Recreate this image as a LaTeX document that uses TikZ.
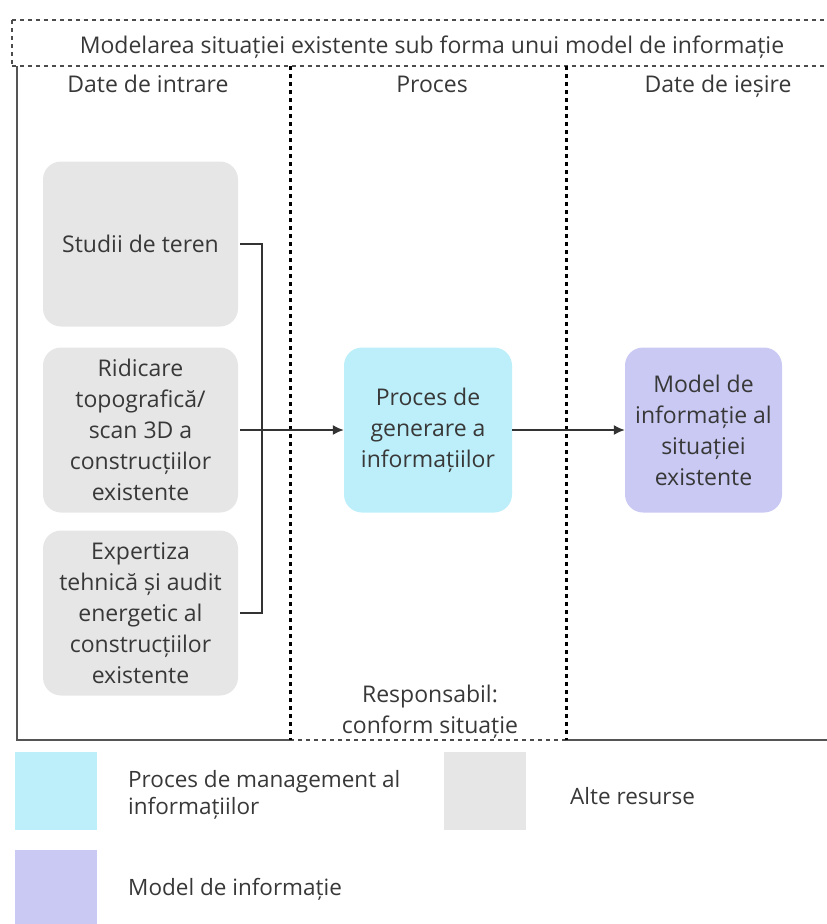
\documentclass[tikz,border=0pt]{standalone}
\usepackage{fontspec}
\setmainfont{Open Sans}
\usetikzlibrary{arrows.meta}
\definecolor{txt}{HTML}{383838}
\definecolor{frame}{HTML}{555555}
\definecolor{resfill}{HTML}{E6E6E6}
\definecolor{procfill}{HTML}{BDEFFA}
\definecolor{modelfill}{HTML}{C9C9F4}
\tikzset{
  lbl/.style={text=txt, font=\fontsize{23}{31}\selectfont, align=center, inner sep=0pt},
  headtext/.style={lbl, anchor=base},
  legtext/.style={lbl, anchor=west, align=left, font=\fontsize{22.5}{27}\selectfont},
  databox/.style={lbl, rounded corners=18pt, minimum width=195pt, minimum height=165pt},
  resbox/.style={databox, fill=resfill},
  procbox/.style={databox, fill=procfill, minimum width=168pt},
  modelbox/.style={databox, fill=modelfill, minimum width=157pt},
  swatch/.style={inner sep=0pt, minimum width=82pt, minimum height=78pt},
  border/.style={draw=frame, line width=1.8pt},
  hdash/.style={draw=black!70, line width=1.6pt, dash pattern=on 4pt off 4pt},
  laneline/.style={draw=black, line width=3pt, dash pattern=on 3.5pt off 4.5pt},
  link/.style={draw=black!80, line width=1.6pt},
  arr/.style={link, -{Latex[length=11pt,width=10pt]}}
}
\begin{document}
\begin{tikzpicture}[x=1pt,y=-1pt]
\useasboundingbox (0,0) rectangle (827,924);

% header band
\draw[hdash] (12,20) -- (827,20);
\draw[hdash] (12,20) -- (12,66);
\draw[hdash] (12,66) -- (827,66);
\node[headtext] (title) at (432,53) {Modelarea situației existente sub forma unui model de informație};

% lane frame
\draw[border] (17,66) -- (17,740) -- (290,740);
\draw[border] (566,740) -- (827,740);
\draw[hdash] (290,740) -- (566,740);
\draw[laneline] (290,66) -- (290,740);
\draw[laneline] (566,66) -- (566,740);

% lane titles
\node[headtext] (hin) at (148,92) {Date de intrare};
\node[headtext] (hproc) at (432,92) {Proces};
\node[headtext] (hout) at (718,92) {Date de ieșire};

% inputs
\node[resbox] (studii) at (140.5,244) {Studii de teren};
\node[resbox] (ridicare) at (140.5,430) {Ridicare\\topografică/\\scan 3D a\\construcțiilor\\existente};
\node[resbox] (expertiza) at (140.5,613) {Expertiza\\tehnică și audit\\energetic al\\construcțiilor\\existente};

% process and output
\node[procbox] (proces) at (428,430) {Proces de\\generare a\\informațiilor};
\node[modelbox] (model) at (703.5,430) {Model de\\informație al\\situației\\existente};

\node[lbl] (resp) at (430,712) {Responsabil:\\conform situație};

% connectors
\coordinate (jn) at (262,430);
\draw[link] ([xshift=2pt]studii.east) -| (jn);
\draw[link] ([xshift=2pt]expertiza.east) -| (jn);
\draw[arr] ([xshift=2pt]ridicare.east) -- (proces.west);
\draw[arr] (proces.east) -- (model.west);

% legend
\node[swatch, fill=procfill] (legproc) at (56,791) {};
\node[legtext] (legproct) at (128,795) {Proces de management al\\informațiilor};
\node[swatch, fill=resfill] (legres) at (485,791) {};
\node[legtext] (legrest) at (570,796) {Alte resurse};
\node[swatch, fill=modelfill, minimum height=80pt] (legmodel) at (56,890) {};
\node[legtext] (legmodelt) at (128,889) {Model de informație};
\end{tikzpicture}
\end{document}
